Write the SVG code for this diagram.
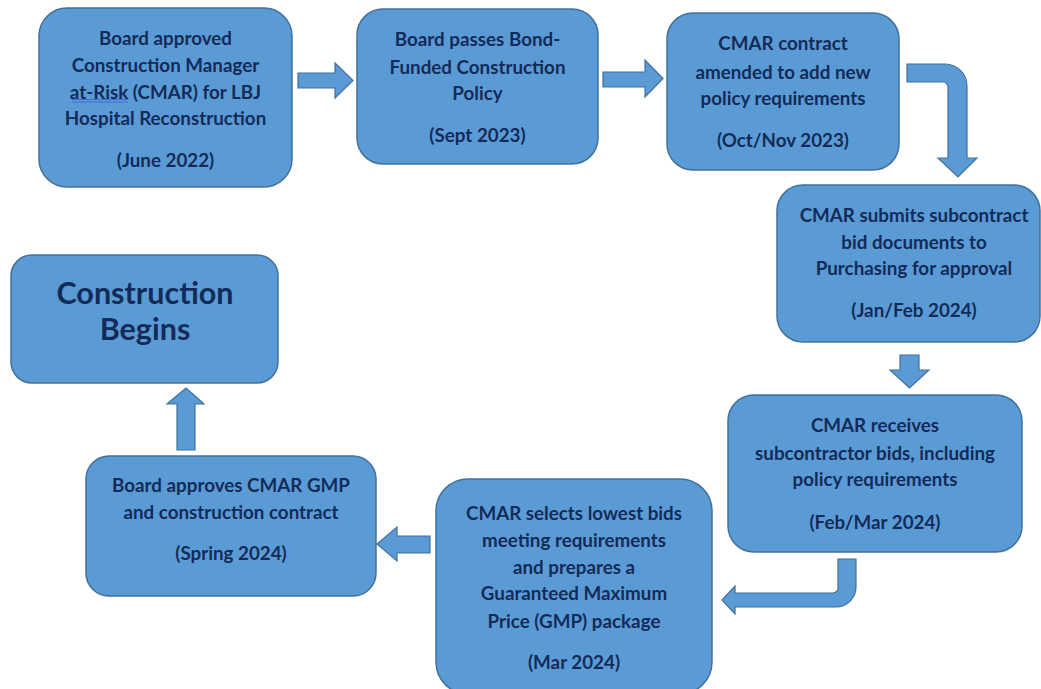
<svg xmlns="http://www.w3.org/2000/svg" width="1041" height="689" viewBox="0 0 1041 689">
<style>
.box{fill:#5B9BD5;stroke:#41719C;stroke-width:1.5}
.arr{fill:#5B9BD5;stroke:#41719C;stroke-width:1.2;stroke-linejoin:miter}
text{font-family:Lato,"Open Sans","Liberation Sans",sans-serif;font-weight:bold;fill:#132B58;text-anchor:middle;font-size:18.8px}
.big{font-size:30.5px}
</style>
<rect width="1041" height="689" fill="#FFFFFF"/>
<g id="connectors">
<path class="arr" d="M298,73 H335 V63 L353,80.5 L335,98 V88 H298 Z"/>
<path class="arr" d="M603,72 H645 V60 L663,78.5 L645,97 V87 H603 Z"/>
<path class="arr" d="M907,64 H945 A22,22 0 0 1 967,86 V158 H977 L958,177 L938,158 H948 V87 A5,5 0 0 0 943,82 H907 Z"/>
<path class="arr" d="M900,355 H919 V370 H929 L909.5,388 L890,370 H900 Z"/>
<path class="arr" d="M838,559 H856 V587 A20,20 0 0 1 836,607 H735 V614 L722,600 L735,586 V593 H833 A5,5 0 0 0 838,588 Z"/>
<path class="arr" d="M430,536 H397 V527 L377,544 L397,561 V553 H430 Z"/>
<path class="arr" d="M177,450 V404 H167 L186,388 L204,404 H195 V450 Z"/>
</g>
<g id="n1">
<rect class="box" x="39" y="8" width="253" height="179" rx="28"/>
<text x="165.5" y="44.5">Board approved</text>
<text x="165.5" y="71.5">Construction Manager</text>
<text x="165.5" y="98.5">at-Risk (CMAR) for LBJ</text>
<text x="165.5" y="124.5">Hospital Reconstruction</text>
<text x="165.5" y="166.5">(June 2022)</text>
<line x1="72" y1="99.5" x2="128" y2="99.5" stroke="#3A6FD8" stroke-width="1"/>
<line x1="72" y1="102" x2="128" y2="102" stroke="#3A6FD8" stroke-width="1"/>
</g>
<g id="n2">
<rect class="box" x="357" y="9" width="241" height="155" rx="26"/>
<text x="477.5" y="45.5">Board passes Bond-</text>
<text x="477.5" y="73.5">Funded Construction</text>
<text x="477.5" y="99.5">Policy</text>
<text x="477.5" y="141.5">(Sept 2023)</text>
</g>
<g id="n3">
<rect class="box" x="667" y="13" width="232" height="157" rx="26"/>
<text x="783" y="49.5">CMAR contract</text>
<text x="783" y="78.5">amended to add new</text>
<text x="783" y="104.5">policy requirements</text>
<text x="783" y="146.5">(Oct/Nov 2023)</text>
</g>
<g id="n4">
<rect class="box" x="777" y="185" width="263" height="157" rx="26"/>
<text x="914" y="221.5">CMAR submits subcontract</text>
<text x="914" y="248.5">bid documents to</text>
<text x="914" y="274.5">Purchasing for approval</text>
<text x="914" y="316.5">(Jan/Feb 2024)</text>
</g>
<g id="n5">
<rect class="box" x="11" y="255" width="267" height="128" rx="21"/>
<text class="big" x="145" y="304">Construction</text>
<text class="big" x="145" y="340">Begins</text>
</g>
<g id="n6">
<rect class="box" x="728" y="395" width="294" height="157" rx="26"/>
<text x="875" y="431.5">CMAR receives</text>
<text x="875" y="459.5">subcontractor bids, including</text>
<text x="875" y="485.5">policy requirements</text>
<text x="875" y="528.5">(Feb/Mar 2024)</text>
</g>
<g id="n7">
<rect class="box" x="436" y="479" width="276" height="215" rx="32"/>
<text x="574" y="519.5">CMAR selects lowest bids</text>
<text x="574" y="546.5">meeting requirements</text>
<text x="574" y="573.5">and prepares a</text>
<text x="574" y="599.5">Guaranteed Maximum</text>
<text x="574" y="627.5">Price (GMP) package</text>
<text x="574" y="668.5">(Mar 2024)</text>
</g>
<g id="n8">
<rect class="box" x="86" y="456" width="290" height="140" rx="23"/>
<text x="231" y="491.5">Board approves CMAR GMP</text>
<text x="231" y="518.5">and construction contract</text>
<text x="231" y="559.5">(Spring 2024)</text>
</g>
</svg>
